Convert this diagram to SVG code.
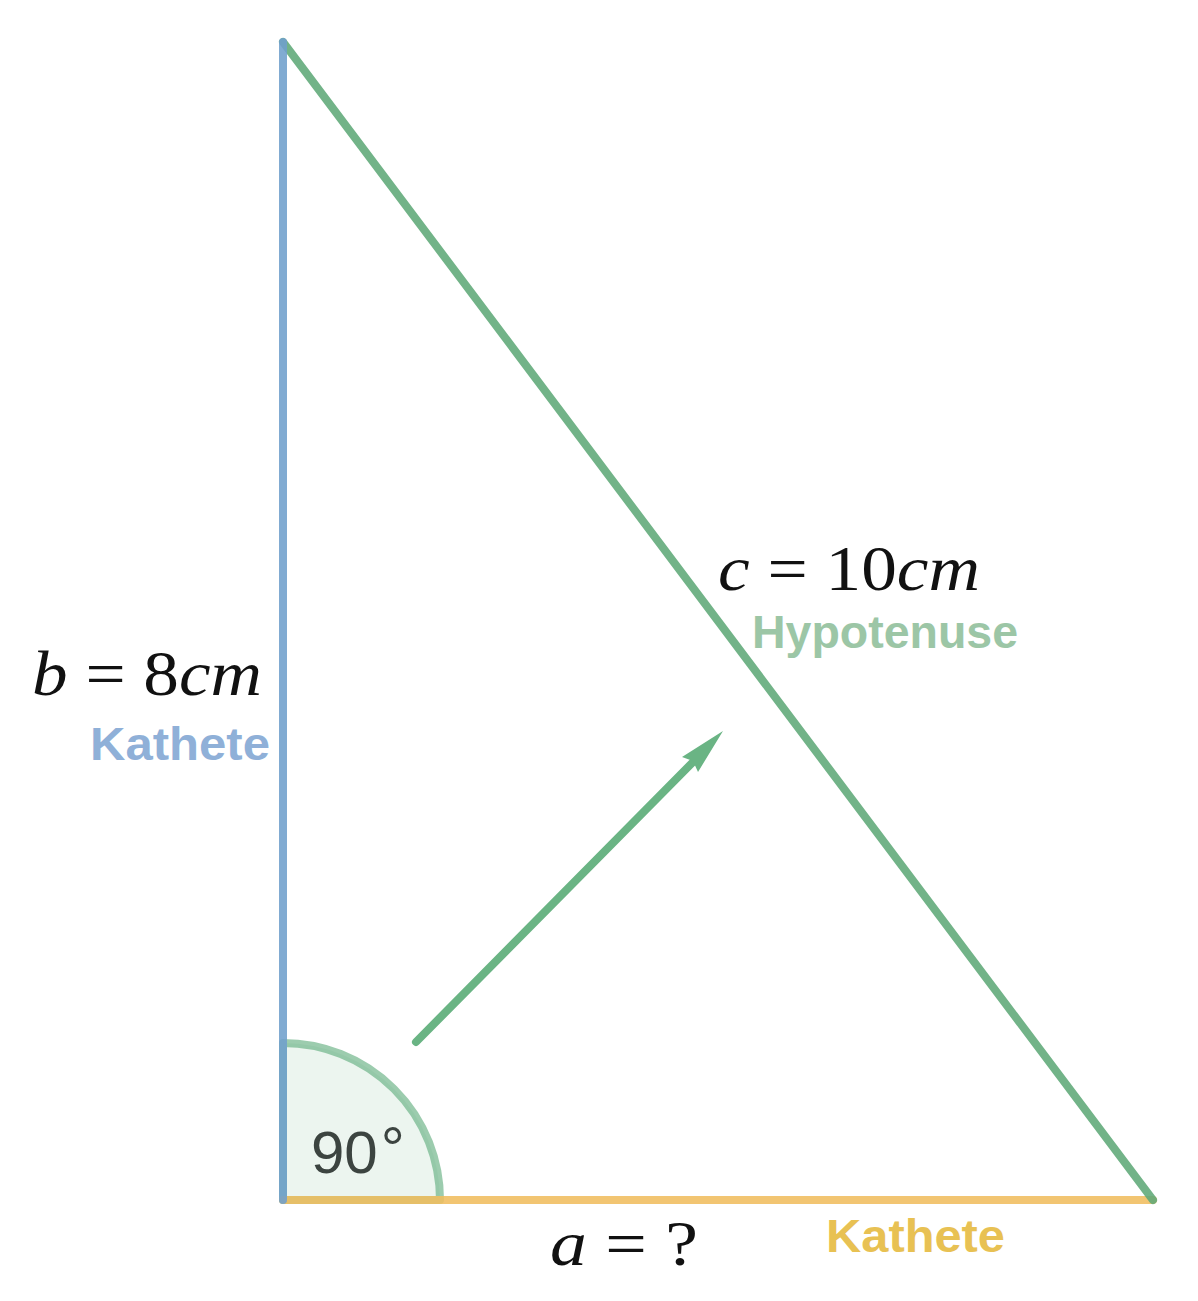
<svg xmlns="http://www.w3.org/2000/svg" width="1198" height="1301" viewBox="0 0 1198 1301">
<style>
.edge{fill:none;stroke-width:8;stroke-linecap:round;stroke-opacity:0.88}
.math{font-family:"Liberation Serif","DejaVu Serif",serif;font-style:italic;font-size:64px;fill:#111}
.up{font-style:normal}
.lbl{font-family:"Liberation Sans","DejaVu Sans",sans-serif;font-weight:bold;font-size:46px}
</style>
<rect width="1198" height="1301" fill="#fff"/>
<g id="angle">
<path d="M283,1200 L283,1043 A157,157 0 0 1 440,1200 Z" fill="#4fa470" fill-opacity="0.11" stroke="#5aaa78" stroke-opacity="0.6" stroke-width="8" stroke-linejoin="round"/>
</g>
<g id="triangle">
<line class="edge" x1="283" y1="1200" x2="1153" y2="1200" stroke="#f0bd5e"/>
<line class="edge" x1="283" y1="42" x2="1153" y2="1200" stroke="#5fa878"/>
<line class="edge" x1="283" y1="42" x2="283" y2="1200" stroke="#6f9fcc"/>
</g>
<text x="311" y="1173" font-family="Liberation Sans,DejaVu Sans,sans-serif" font-size="60" fill="#3c4440">90<tspan dx="3" dy="-4">°</tspan></text>
<g id="connectors">
<line x1="416" y1="1042" x2="695" y2="760" stroke="#6ab484" stroke-width="8" stroke-linecap="round"/>
<polygon points="723,731 698,772 693,761 682,757" fill="#6ab484"/>
</g>
<g id="label-c">
<text class="math" x="718" y="590" textLength="262" lengthAdjust="spacingAndGlyphs">c <tspan class="up">= 10</tspan>cm</text>
<text class="lbl" x="752" y="648" fill="#9cc6a6" textLength="266" lengthAdjust="spacingAndGlyphs">Hypotenuse</text>
</g>
<g id="label-b">
<text class="math" x="32" y="695" textLength="230" lengthAdjust="spacingAndGlyphs">b <tspan class="up">= 8</tspan>cm</text>
<text class="lbl" x="90" y="760" fill="#8fb0d8" textLength="180" lengthAdjust="spacingAndGlyphs">Kathete</text>
</g>
<g id="label-a">
<text class="math" x="550" y="1265" textLength="148" lengthAdjust="spacingAndGlyphs">a <tspan class="up">= ?</tspan></text>
<text class="lbl" x="826" y="1252" fill="#e8c153" textLength="179" lengthAdjust="spacingAndGlyphs">Kathete</text>
</g>
</svg>
